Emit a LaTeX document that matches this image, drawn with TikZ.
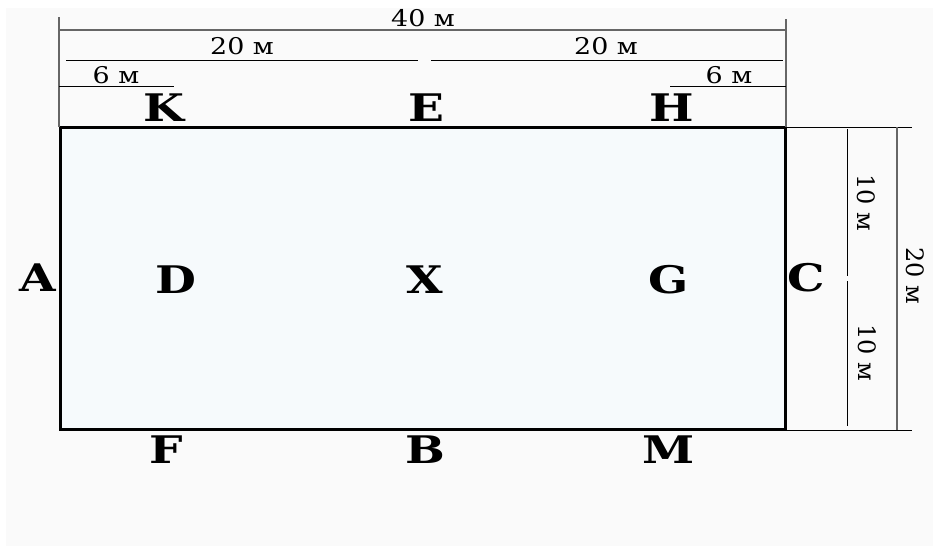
\documentclass[tikz,border=0pt]{standalone}
\usepackage{fontspec}
\setmainfont{DejaVu Serif}
\usetikzlibrary{
  positioning,
}
\definecolor{paper}{HTML}{FAFAFA}
\definecolor{field}{HTML}{F6FAFC}
\definecolor{guide}{HTML}{666666}
\tikzset{
  letter/.style={font=\fontsize{38}{38}\selectfont\bfseries, inner sep=0pt, xscale=1.24},
  size/.style={font=\fontsize{23}{24}\selectfont, inner sep=0pt, xscale=1.17},
  sizev/.style={font=\fontsize{24}{24}\selectfont, inner sep=0pt, rotate=-90},
  thin line/.style={line width=1pt, black},
  guide line/.style={line width=1.5pt, guide},
}
\begin{document}
\begin{tikzpicture}[x=1pt, y=-1pt]
\useasboundingbox (0,0) rectangle (933,546);
\fill[white] (0,0) rectangle (933,546);
\fill[paper] (6,8) rectangle (933,546);
% field
\node[draw, line width=3pt, fill=field, minimum width=725pt, minimum height=302pt, inner sep=0pt, anchor=north west] (field) at (59,126) {};
% letters
\node[letter] (K) at (164,108) {K};
\node[letter] (E) at (426,108) {E};
\node[letter] (H) at (672,108) {H};
\node[letter] (A) at (38,278) {A};
\node[letter] (D) at (176,280) {D};
\node[letter] (X) at (425,280) {X};
\node[letter] (G) at (669,280) {G};
\node[letter] (C) at (806,278) {C};
\node[letter] (F) at (166,450) {F};
\node[letter] (B) at (425,450) {B};
\node[letter] (M) at (669,450) {M};
% top sizes
\coordinate (top l) at (59,17);
\coordinate (top r) at (786,19);
\coordinate (base l) at (59,127);
\coordinate (base r) at (786,127);
\draw[guide line] (top l) -- (base l);
\draw[guide line] (top r) -- (base r);
\coordinate (w40 l) at (59,30);
\coordinate (w40 r) at (786,30);
\draw[guide line] (w40 l) -- (w40 r);
\node[size] (w40) at (423,18) {40 м};
\coordinate (w20a l) at (66,60);
\coordinate (w20a r) at (418,60);
\coordinate (w20b l) at (431,60);
\coordinate (w20b r) at (783,60);
\draw[thin line] (w20a l) -- (w20a r);
\draw[thin line] (w20b l) -- (w20b r);
\node[size] (w20a) at (242,46) {20 м};
\node[size] (w20b) at (606,46) {20 м};
\coordinate (w6a l) at (59,86);
\coordinate (w6a r) at (174,86);
\coordinate (w6b l) at (670,86);
\coordinate (w6b r) at (786,86);
\draw[thin line] (w6a l) -- (w6a r);
\draw[thin line] (w6b l) -- (w6b r);
\node[size] (w6a) at (116,75) {6 м};
\node[size] (w6b) at (729,75) {6 м};
% right sizes
\coordinate (ext t l) at (786,127);
\coordinate (ext t r) at (912,127);
\coordinate (ext b l) at (786,430);
\coordinate (ext b r) at (912,430);
\draw[thin line] (ext t l) -- (ext t r);
\draw[thin line] (ext b l) -- (ext b r);
\coordinate (h10a t) at (847,129);
\coordinate (h10a b) at (847,276);
\coordinate (h10b t) at (847,281);
\coordinate (h10b b) at (847,426);
\draw[thin line] (h10a t) -- (h10a b);
\draw[thin line] (h10b t) -- (h10b b);
\coordinate (h20 t) at (897,127);
\coordinate (h20 b) at (897,430);
\draw[guide line] (h20 t) -- (h20 b);
\node[sizev] (h10a) at (866,203) {10 м};
\node[sizev] (h10b) at (867,353) {10 м};
\node[sizev] (h20) at (915,276) {20 м};
\end{tikzpicture}
\end{document}
